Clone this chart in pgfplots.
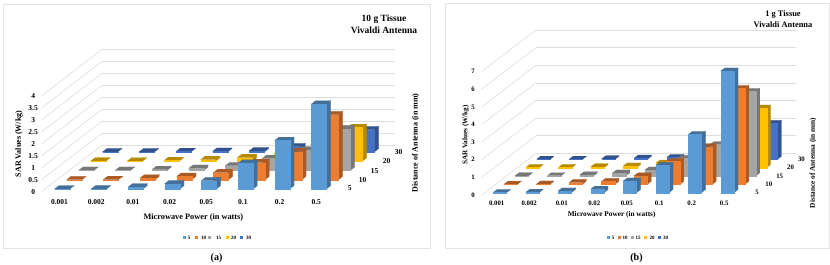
\documentclass[border=0pt]{standalone}
\usepackage{pgfplots}
\pgfplotsset{compat=1.18}
\usepackage{fontspec}
\setmainfont{Liberation Serif}
\definecolor{c0}{HTML}{5B9BD5}
\definecolor{c1}{HTML}{ED7D31}
\definecolor{c2}{HTML}{A5A5A5}
\definecolor{c3}{HTML}{FFC000}
\definecolor{c4}{HTML}{4472C4}
\newcommand\sarbar[3]{% category, row, value
  \pgfmathsetmacro\xa{#1+0.26}\pgfmathsetmacro\xb{#1+0.67}%
  \pgfmathsetmacro\ya{#2+0.28}\pgfmathsetmacro\yb{#2+0.65}%
  \edef\temp{%
    \noexpand\addplot3[forget plot,no marks,fill=c#2!72!black,draw=c#2!72!black,line width=0.1pt]
      coordinates {(\xb,\ya,0)(\xb,\yb,0)(\xb,\yb,#3)(\xb,\ya,#3)} -- cycle;
    \noexpand\addplot3[forget plot,no marks,fill=c#2!72!black,draw=c#2!72!black,line width=0.1pt]
      coordinates {(\xa,\ya,#3)(\xb,\ya,#3)(\xb,\yb,#3)(\xa,\yb,#3)} -- cycle;
    \noexpand\addplot3[forget plot,no marks,fill=c#2,draw=c#2,line width=0.1pt]
      coordinates {(\xa,\ya,0)(\xb,\ya,0)(\xb,\ya,#3)(\xa,\ya,#3)} -- cycle;
  }\temp}
\newcommand\sarrow[9]{%
  \sarbar{0}{#1}{#2}\sarbar{1}{#1}{#3}\sarbar{2}{#1}{#4}\sarbar{3}{#1}{#5}%
  \sarbar{4}{#1}{#6}\sarbar{5}{#1}{#7}\sarbar{6}{#1}{#8}\sarbar{7}{#1}{#9}}
\pgfplotsset{sar/.style={
  anchor=origin, clip=false,
  xmin=0,xmax=8,ymin=0,ymax=5,zmin=0,
  axis line style={draw=none},
  major tick length=0pt,
  xmajorgrids=false,ymajorgrids=false,zmajorgrids=true,
  grid style={draw=black!13,line width=0.6pt},
  xtick={0.46,1.46,2.46,3.46,4.46,5.46,6.46,7.46},
  xticklabels={0.001,0.002,0.01,0.02,0.05,0.1,0.2,0.5},
  ytick={0.5,1.5,2.5,3.5,4.5},
  yticklabels={5,10,15,20,30},
  /pgf/number format/assume math mode=true,
}}
\begin{document}
\begin{tikzpicture}[font=\bfseries]
\useasboundingbox (0pt,0pt) rectangle (830pt,265pt);
\fill[white] (0pt,0pt) rectangle (830pt,265pt);
\draw[black!11,line width=0.7pt] (3.5pt,17pt) rectangle (430pt,260.5pt);
\draw[black!11,line width=0.7pt] (445.7pt,17pt) rectangle (829pt,261.7pt);

% ---------- (a)
\begin{axis}[sar, at={(41.67pt,73.33pt)},
  x={(36.67pt,0pt)}, y={(12pt,9.27pt)}, z={(0pt,23.93pt)},
  zmax=4, ztick={0,0.5,1,1.5,2,2.5,3,3.5,4},
  zticklabels={0,0.5,1,1.5,2,2.5,3,3.5,4},
  ticklabel style={font=\bfseries\fontsize{7.5}{9}\selectfont},
  xticklabel style={xshift=4pt,yshift=-4pt},
  yticklabel style={xshift=3pt,yshift=4.5pt},
  zticklabel style={anchor=center,xshift=-8.5pt},
  xlabel={Microwave Power (in watts)},
  ylabel={Distance of Antenna (in mm)},
  zlabel={SAR Values (W/kg)},
  every axis x label/.style={at={(axis cs:0,0,0)},xshift=151.7pt,yshift=-26pt,anchor=center,font=\bfseries\fontsize{8.3}{10}\selectfont},
  every axis y label/.style={at={(axis cs:0,0,0)},xshift=374pt,yshift=49pt,rotate=90,anchor=center,font=\bfseries\fontsize{8}{10}\selectfont},
  every axis z label/.style={at={(axis cs:0,0,0)},xshift=-22.7pt,yshift=47.7pt,rotate=90,anchor=center,font=\bfseries\fontsize{8}{10}\selectfont},
]
\sarrow{4}{0.005}{0.01}{0.02}{0.03}{0.05}{0.22}{0.5}{0.93}
\sarrow{3}{0.005}{0.01}{0.03}{0.07}{0.15}{0.3}{0.7}{1.41}
\sarrow{2}{0.005}{0.01}{0.04}{0.09}{0.2}{0.5}{0.86}{1.74}
\sarrow{1}{0.005}{0.01}{0.07}{0.14}{0.3}{0.72}{1.18}{2.72}
\sarrow{0}{0.005}{0.01}{0.08}{0.22}{0.35}{1.08}{2.03}{3.55}
\end{axis}

% ---------- (b)
\begin{axis}[sar, at={(481.67pt,70pt)},
  x={(32.5pt,0pt)}, y={(10.87pt,8.33pt)}, z={(0pt,17.63pt)},
  zmax=7, ztick={0,1,2,3,4,5,6,7},
  zticklabels={0,1,2,3,4,5,6,7},
  ticklabel style={font=\bfseries\fontsize{6.8}{8}\selectfont},
  xticklabel style={xshift=3pt,yshift=-2pt},
  yticklabel style={xshift=4.5pt,yshift=4.5pt},
  zticklabel style={anchor=center,xshift=-8.5pt},
  xlabel={Microwave Power (in watts)},
  ylabel={Distance of Antenna (in mm)},
  zlabel={SAR Values (W/kg)},
  every axis x label/.style={at={(axis cs:0,0,0)},xshift=130pt,yshift=-20pt,anchor=center,font=\bfseries\fontsize{7.3}{9}\selectfont},
  every axis y label/.style={at={(axis cs:0,0,0)},xshift=331.5pt,yshift=32pt,rotate=90,anchor=center,font=\bfseries\fontsize{7.3}{9}\selectfont},
  every axis z label/.style={at={(axis cs:0,0,0)},xshift=-16pt,yshift=60pt,rotate=90,anchor=center,font=\bfseries\fontsize{7.2}{9}\selectfont},
]
\sarrow{4}{0.01}{0.01}{0.03}{0.07}{0.11}{0.6}{0.8}{2.04}
\sarrow{3}{0.01}{0.01}{0.05}{0.1}{0.26}{0.7}{1.2}{3.38}
\sarrow{2}{0.01}{0.02}{0.07}{0.17}{0.34}{1.0}{1.78}{4.8}
\sarrow{1}{0.01}{0.02}{0.1}{0.17}{0.48}{1.3}{2.14}{5.44}
\sarrow{0}{0.01}{0.02}{0.1}{0.2}{0.66}{1.55}{3.3}{6.9}
\end{axis}

% ---------- titles, captions, legends
\node[align=center,font=\bfseries\fontsize{9.5}{12}\selectfont] at (384pt,240.5pt) {10 g Tissue\\Vivaldi Antenna};
\node[align=center,font=\bfseries\fontsize{8.4}{11}\selectfont] at (783pt,246pt) {1 g Tissue\\Vivaldi Antenna};
\node[font=\bfseries\fontsize{10}{12}\selectfont] at (216.5pt,6.5pt) {(a)};
\node[font=\bfseries\fontsize{10}{12}\selectfont] at (636.5pt,6.5pt) {(b)};
\foreach \xs/\xt/\lab/\col in {184.5/189/5/c0,196.5/203.5/10/c1,209/218.5/15/c2,227/233.5/20/c3,241.5/248.5/30/c4}{
  \fill[\col] (\xs pt-1.5pt,25.5pt) rectangle (\xs pt+1.5pt,28.5pt);
  \node[font=\bfseries\fontsize{5}{6}\selectfont] at (\xt pt,27pt) {\lab};
}
\foreach \xs/\xt/\lab/\col in {608.5/613/5/c0,619/625/10/c1,632/638/15/c2,645/652/20/c3,659/665.5/30/c4}{
  \fill[\col] (\xs pt-1.5pt,25.5pt) rectangle (\xs pt+1.5pt,28.5pt);
  \node[font=\bfseries\fontsize{5}{6}\selectfont] at (\xt pt,27pt) {\lab};
}
\end{tikzpicture}
\end{document}
